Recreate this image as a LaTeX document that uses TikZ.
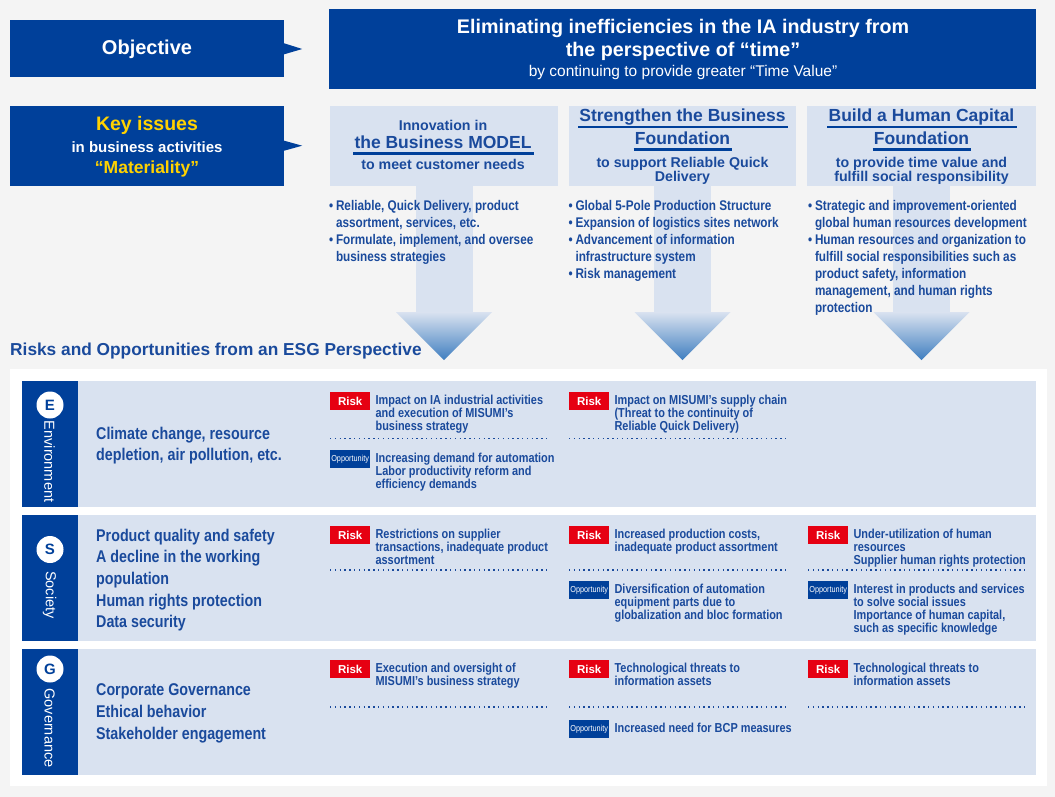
\documentclass[tikz,border=0pt]{standalone}
\usepackage{fontspec}
\setmainfont{Liberation Sans}
\newfontfamily\condfont{Liberation Sans}[FakeStretch=0.84]
\usetikzlibrary{positioning}
\usepackage{xcolor}

\definecolor{misumiBlue}{HTML}{00409A}
\definecolor{paleBlue}{HTML}{D9E2F0}
\definecolor{inkBlue}{HTML}{1A4A9C}
\definecolor{riskRed}{HTML}{E60012}
\definecolor{keyYellow}{HTML}{FFD200}
\definecolor{pageGray}{HTML}{F4F4F4}
\definecolor{tipBlue}{HTML}{3F7EC0}

\newcommand{\bul}{\makebox[6.8pt][l]{\textbullet}}
\newcommand{\bulgap}{\hspace*{6.8pt}}

\begin{document}
\begin{tikzpicture}[
  x=1pt, y=-1pt,
  darkbox/.style={fill=misumiBlue, inner sep=0pt},
  palebox/.style={fill=paleBlue, inner sep=0pt},
  whitetxt/.style={text=white, inner sep=0pt, anchor=base},
  mattxt/.style={text=inkBlue, inner sep=0pt, anchor=base, font=\bfseries\fontsize{14.2}{16}\selectfont},
  mattitle/.style={mattxt, font=\bfseries\fontsize{17.5}{20}\selectfont},
  uline/.style={draw=misumiBlue, line width=2.6pt},
  bullets/.style={text=inkBlue, inner sep=0pt, anchor=north west, align=left, font=\condfont\bfseries\fontsize{14}{17}\selectfont},
  rowbg/.style={fill=paleBlue, inner sep=0pt, minimum width=1014pt, minimum height=126pt},
  strip/.style={fill=misumiBlue, inner sep=0pt, minimum width=56pt, minimum height=126pt},
  badge/.style={circle, fill=white, inner sep=0pt, minimum size=27pt, text=misumiBlue, font=\bfseries\fontsize{15}{16}\selectfont},
  sidelabel/.style={rotate=-90, text=white, inner sep=0pt, font=\fontsize{14.5}{16}\selectfont},
  topic/.style={text=inkBlue, inner sep=0pt, anchor=north west, align=left, font=\condfont\bfseries\fontsize{17}{21.7}\selectfont},
  risktag/.style={anchor=north west, fill=riskRed, text=white, inner sep=0pt, minimum width=40pt, minimum height=18pt, font=\bfseries\fontsize{11.5}{12}\selectfont},
  opptag/.style={risktag, fill=misumiBlue, font=\condfont\fontsize{8.7}{9}\selectfont},
  itemtxt/.style={text=inkBlue, inner sep=0pt, anchor=north west, align=left, font=\condfont\bfseries\fontsize{13}{12.8}\selectfont},
  dotsep/.style={draw=inkBlue, line width=1.3pt, dash pattern=on 1.3pt off 3.5pt}
]

  % fond
  \fill[pageGray] (0,0) rectangle (1055,797);

  %=======================================

  % OBJECTIF =============================

  \node[darkbox, minimum width=274pt, minimum height=57pt] (objective) at (147,48.5) {};
  \node[whitetxt, font=\bfseries\fontsize{20}{24}\selectfont] (objectiveTxt) at (147,55) {Objective};
  \fill[misumiBlue] (objective.east) ++(0,-5.2) -- ++(18,5.7) -- ++(-18,5.3) -- cycle;

  \node[darkbox, minimum width=707pt, minimum height=80pt] (goal) at (682.5,49) {};
  \node[whitetxt, font=\bfseries\fontsize{19.7}{22}\selectfont] (goalL1) at (683,34) {Eliminating inefficiencies in the IA industry from};
  \node[whitetxt, font=\bfseries\fontsize{19.7}{22}\selectfont] (goalL2) at (683,57) {the perspective of “time”};
  \node[whitetxt, font=\fontsize{15.5}{18}\selectfont] (goalL3) at (683,76.5) {by continuing to provide greater “Time Value”};

  % MATERIALITE ==========================

  \node[darkbox, minimum width=274pt, minimum height=80pt] (keyIssues) at (147,146) {};
  \node[whitetxt, text=keyYellow, font=\bfseries\fontsize{19.5}{22}\selectfont] (keyTxt1) at (147,130.7) {Key issues};
  \node[whitetxt, font=\bfseries\fontsize{15}{18}\selectfont] (keyTxt2) at (147,152.3) {in business activities};
  \node[whitetxt, text=keyYellow, font=\bfseries\fontsize{17.5}{20}\selectfont] (keyTxt3) at (147,174) {“Materiality”};
  \fill[misumiBlue] (keyIssues.east) ++(0,-5.3) -- ++(18,5) -- ++(-18,5) -- cycle;

  \node[palebox, minimum width=228pt, minimum height=80pt] (mat1) at (444,146) {};
  \node[palebox, minimum width=227pt, minimum height=80pt] (mat2) at (682.5,146) {};
  \node[palebox, minimum width=229pt, minimum height=80pt] (mat3) at (921.5,146) {};

  % grandes flèches
  \fill[paleBlue] ([xshift=-28.5pt]mat1.south) rectangle ([xshift=28.5pt,yshift=-126pt]mat1.south);
  \shade[top color=paleBlue, bottom color=tipBlue] ([xshift=-48pt,yshift=-126pt]mat1.south) -- ([xshift=48pt,yshift=-126pt]mat1.south) -- ([yshift=-174pt]mat1.south) -- cycle;
  \fill[paleBlue] ([xshift=-28.5pt]mat2.south) rectangle ([xshift=28.5pt,yshift=-126pt]mat2.south);
  \shade[top color=paleBlue, bottom color=tipBlue] ([xshift=-48pt,yshift=-126pt]mat2.south) -- ([xshift=48pt,yshift=-126pt]mat2.south) -- ([yshift=-174pt]mat2.south) -- cycle;
  \fill[paleBlue] ([xshift=-28.5pt]mat3.south) rectangle ([xshift=28.5pt,yshift=-126pt]mat3.south);
  \shade[top color=paleBlue, bottom color=tipBlue] ([xshift=-48pt,yshift=-126pt]mat3.south) -- ([xshift=48pt,yshift=-126pt]mat3.south) -- ([yshift=-174pt]mat3.south) -- cycle;

  % Innovation
  \node[mattxt] (m1a) at (443,130.7) {Innovation in};
  \node[mattitle] (m1b) at (443,148.3) {the Business MODEL};
  \node[mattxt] (m1c) at (443,170) {to meet customer needs};
  % Strengthen
  \node[mattitle] (m2a) at (682.5,121.5) {Strengthen the Business};
  \node[mattitle] (m2b) at (682.5,144.3) {Foundation};
  \node[mattxt] (m2c) at (682.5,167.3) {to support Reliable Quick};
  \node[mattxt] (m2d) at (682.5,181.7) {Delivery};
  % Human Capital
  \node[mattitle] (m3a) at (921.5,121.5) {Build a Human Capital};
  \node[mattitle] (m3b) at (921.5,144.3) {Foundation};
  \node[mattxt] (m3c) at (921.5,167.3) {to provide time value and};
  \node[mattxt] (m3d) at (921.5,181.7) {fulfill social responsibility};
  % soulignements
  \draw[uline] ([xshift=-1pt,yshift=-5.5pt]m1b.base west) -- ([xshift=2pt,yshift=-5.5pt]m1b.base east);
  \draw[uline] ([xshift=-1pt,yshift=-5.5pt]m2a.base west) -- ([xshift=2pt,yshift=-5.5pt]m2a.base east);
  \draw[uline] ([xshift=-1pt,yshift=-5.5pt]m2b.base west) -- ([xshift=2pt,yshift=-5.5pt]m2b.base east);
  \draw[uline] ([xshift=-1pt,yshift=-5.5pt]m3a.base west) -- ([xshift=2pt,yshift=-5.5pt]m3a.base east);
  \draw[uline] ([xshift=-1pt,yshift=-5.5pt]m3b.base west) -- ([xshift=2pt,yshift=-5.5pt]m3b.base east);

  % listes
  \node[bullets] (list1) at (329,200.5) {\bul Reliable, Quick Delivery, product\\\bulgap assortment, services, etc.\\\bul Formulate, implement, and oversee\\\bulgap business strategies};
  \node[bullets] (list2) at (568.5,200.5) {\bul Global 5-Pole Production Structure\\\bul Expansion of logistics sites network\\\bul Advancement of information\\\bulgap infrastructure system\\\bul Risk management};
  \node[bullets] (list3) at (808,200.5) {\bul Strategic and improvement-oriented\\\bulgap global human resources development\\\bul Human resources and organization to\\\bulgap fulfill social responsibilities such as\\\bulgap product safety, information\\\bulgap management, and human rights\\\bulgap protection};

  % ESG ==================================

  \node[text=inkBlue, inner sep=0pt, anchor=base west, font=\bfseries\fontsize{17.3}{19}\selectfont] (esgTitle) at (10,355) {Risks and Opportunities from an ESG Perspective};

  \fill[white] (10,369) rectangle (1047,786);

  \node[rowbg] (rowE) at (529,444) {};
  \node[rowbg] (rowS) at (529,578) {};
  \node[rowbg] (rowG) at (529,712) {};
  \node[strip] (stripE) at (50,444) {};
  \node[strip] (stripS) at (50,578) {};
  \node[strip] (stripG) at (50,712) {};
  \node[badge] (badgeE) at (50,405) {E};
  \node[badge] (badgeS) at (50,549.5) {S};
  \node[badge] (badgeG) at (50,669) {G};
  \node[sidelabel] (sideE) at (49.5,461.5) {Environment};
  \node[sidelabel] (sideS) at (49.5,595) {Society};
  \node[sidelabel] (sideG) at (49.5,728) {Governance};

  \node[topic] (topicE) at (96,426.6) {Climate change, resource\\depletion, air pollution, etc.};
  \node[topic] (topicS) at (96,528.6) {Product quality and safety\\A decline in the working\\population\\Human rights protection\\Data security};
  \node[topic] (topicG) at (96,683.8) {Corporate Governance\\Ethical behavior\\Stakeholder engagement};

  % Environnement
  \node[risktag] (riskE1) at (330,392) {Risk};
  \node[itemtxt] (txtRiskE1) at ([xshift=5pt,yshift=-3pt]riskE1.north east) {Impact on IA industrial activities\\and execution of MISUMI’s\\business strategy};
  \draw[dotsep] (330,438.7) -- (547,438.7);
  \node[opptag] (oppE1) at (330,450) {Opportunity};
  \node[itemtxt] (txtOppE1) at ([xshift=5pt,yshift=-3pt]oppE1.north east) {Increasing demand for automation\\Labor productivity reform and\\efficiency demands};
  \node[risktag] (riskE2) at (569,392) {Risk};
  \node[itemtxt] (txtRiskE2) at ([xshift=5pt,yshift=-3pt]riskE2.north east) {Impact on MISUMI’s supply chain\\(Threat to the continuity of\\Reliable Quick Delivery)};
  \draw[dotsep] (569,438.7) -- (786,438.7);

  % Société
  \node[risktag] (riskS1) at (330,526) {Risk};
  \node[itemtxt] (txtRiskS1) at ([xshift=5pt,yshift=-3pt]riskS1.north east) {Restrictions on supplier\\transactions, inadequate product\\assortment};
  \draw[dotsep] (330,570) -- (547,570);
  \node[risktag] (riskS2) at (569,526) {Risk};
  \node[itemtxt] (txtRiskS2) at ([xshift=5pt,yshift=-3pt]riskS2.north east) {Increased production costs,\\inadequate product assortment};
  \draw[dotsep] (569,570) -- (786,570);
  \node[opptag] (oppS2) at (569,581) {Opportunity};
  \node[itemtxt] (txtOppS2) at ([xshift=5pt,yshift=-3pt]oppS2.north east) {Diversification of automation\\equipment parts due to\\globalization and bloc formation};
  \node[risktag] (riskS3) at (808,526) {Risk};
  \node[itemtxt] (txtRiskS3) at ([xshift=5pt,yshift=-3pt]riskS3.north east) {Under-utilization of human\\resources\\Supplier human rights protection};
  \draw[dotsep] (808,570) -- (1025,570);
  \node[opptag] (oppS3) at (808,581) {Opportunity};
  \node[itemtxt] (txtOppS3) at ([xshift=5pt,yshift=-3pt]oppS3.north east) {Interest in products and services\\to solve social issues\\Importance of human capital,\\such as specific knowledge};

  % Gouvernance
  \node[risktag] (riskG1) at (330,660) {Risk};
  \node[itemtxt] (txtRiskG1) at ([xshift=5pt,yshift=-3pt]riskG1.north east) {Execution and oversight of\\MISUMI’s business strategy};
  \draw[dotsep] (330,707) -- (547,707);
  \node[risktag] (riskG2) at (569,660) {Risk};
  \node[itemtxt] (txtRiskG2) at ([xshift=5pt,yshift=-3pt]riskG2.north east) {Technological threats to\\information assets};
  \draw[dotsep] (569,707) -- (786,707);
  \node[opptag] (oppG2) at (569,720) {Opportunity};
  \node[itemtxt] (txtOppG2) at ([xshift=5pt,yshift=-3pt]oppG2.north east) {Increased need for BCP measures};
  \node[risktag] (riskG3) at (808,660) {Risk};
  \node[itemtxt] (txtRiskG3) at ([xshift=5pt,yshift=-3pt]riskG3.north east) {Technological threats to\\information assets};
  \draw[dotsep] (808,707) -- (1025,707);

  %=======================================

\end{tikzpicture}
\end{document}
